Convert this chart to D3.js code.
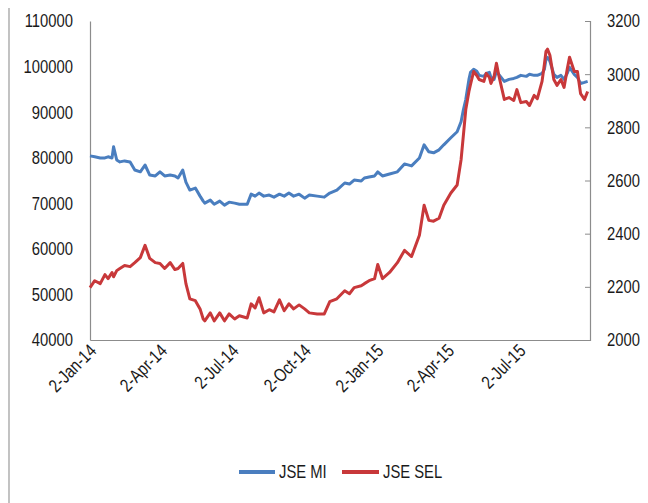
<!DOCTYPE html>
<html><head><meta charset="utf-8">
<script src="https://cdn.jsdelivr.net/npm/d3@7"></script>
<style>
html,body{margin:0;padding:0;background:#fff;}
text{font-family:"Liberation Sans",Arial,sans-serif;fill:#1a1a1a;}
</style></head>
<body>
<svg id="chart" width="648" height="503"></svg>
<script>
const dates = [
 "2014-01-02","2014-01-08","2014-01-15","2014-01-21","2014-01-25","2014-01-30",
 "2014-02-01","2014-02-05","2014-02-09","2014-02-15","2014-02-22","2014-02-28",
 "2014-03-07","2014-03-13","2014-03-19","2014-03-26",
 "2014-04-01","2014-04-07","2014-04-14","2014-04-20","2014-04-24","2014-04-30",
 "2014-05-04","2014-05-09","2014-05-16","2014-05-22","2014-05-26","2014-05-28",
 "2014-06-04","2014-06-09","2014-06-16","2014-06-22","2014-06-28",
 "2014-07-05","2014-07-11","2014-07-21","2014-07-26","2014-07-31",
 "2014-08-05","2014-08-11","2014-08-18","2014-08-24","2014-08-31",
 "2014-09-06","2014-09-12","2014-09-18","2014-09-25",
 "2014-10-02","2014-10-08","2014-10-18","2014-10-27",
 "2014-11-03","2014-11-12","2014-11-22","2014-11-28",
 "2014-12-04","2014-12-13","2014-12-17","2014-12-23","2014-12-30",
 "2015-01-03","2015-01-09","2015-01-18","2015-01-28",
 "2015-02-06","2015-02-15","2015-02-25",
 "2015-03-03","2015-03-09","2015-03-15","2015-03-22","2015-03-28",
 "2015-04-06","2015-04-14","2015-04-19","2015-04-22","2015-04-25","2015-04-29",
 "2015-05-01","2015-05-05","2015-05-09","2015-05-12","2015-05-18","2015-05-21","2015-05-25","2015-05-27","2015-05-31",
 "2015-06-03","2015-06-06","2015-06-13","2015-06-19","2015-06-25","2015-06-29",
 "2015-07-04","2015-07-11","2015-07-15","2015-07-21","2015-07-25","2015-07-31",
 "2015-08-03","2015-08-05","2015-08-07","2015-08-10","2015-08-15","2015-08-19","2015-08-24","2015-08-28",
 "2015-09-01","2015-09-04","2015-09-10","2015-09-14","2015-09-18","2015-09-23","2015-09-27"
];
const jseMI = [
 80400, 80200, 79950, 79950, 80200, 79950,
 82400, 79500, 79080, 79300, 79080, 77300,
 76900, 78400, 76200, 76000,
 76900, 76000, 76200, 76000, 75550, 77300,
 74660, 72900, 73340, 71570, 70470, 70030,
 70700, 69800, 70470, 69600, 70250,
 70030, 69800, 69800, 72000, 71570,
 72240, 71570, 71800, 71350, 72000,
 71570, 72240, 71570, 72000,
 71130, 71800, 71570, 71350,
 72240, 72900, 74450, 74220,
 75100, 74880, 75550, 75770, 76000,
 76900, 76000, 76430, 76900,
 78640, 78200, 79950,
 82830, 81300, 81070, 81730, 82830,
 84380, 85700, 87900, 90560, 92770, 97190,
 98730, 99400, 98950, 98070, 97850, 98500, 98730, 97630, 97190,
 98950, 98300, 96750, 97190, 97400, 97630,
 98070, 97850, 98300, 98070, 98070, 98500,
 99400, 101600, 102000, 101160, 98300, 97630, 98070, 97190,
 98500, 99840, 98300, 97630, 96300, 96530, 96750
];
const jseSEL = [
 2197, 2223, 2212, 2246, 2231, 2254,
 2238, 2261, 2269, 2280, 2276, 2291,
 2310, 2356, 2307, 2291,
 2288, 2269, 2291, 2265, 2269, 2288,
 2212, 2155, 2148, 2117, 2079, 2072,
 2102, 2072, 2102, 2072, 2098,
 2079, 2091, 2083, 2136, 2121,
 2159, 2102, 2114, 2106, 2151,
 2110, 2136, 2117, 2132,
 2117, 2102, 2098, 2098,
 2144, 2155, 2185, 2174,
 2197, 2204, 2212, 2223, 2231,
 2284, 2231, 2254, 2291,
 2337, 2314, 2394,
 2507, 2450, 2447, 2458, 2507,
 2553, 2583, 2678, 2772, 2867, 2935,
 2961, 3010, 2995, 2980, 2973, 3003, 2988, 2965, 2992,
 3041, 2995, 2905, 2912, 2901, 2942,
 2893, 2897, 2882, 2920, 2908, 2973,
 3037, 3086, 3094, 3071, 2980, 2958, 2980, 2950,
 3018, 3064, 3010, 3010, 2927, 2905, 2935
];
const xTickLabels = ["2014-01-02","2014-04-02","2014-07-02","2014-10-02","2015-01-02","2015-04-02","2015-07-02"];
const leftTicks = [40000,50000,60000,70000,80000,90000,100000,110000];
const rightTicks = [2000,2200,2400,2600,2800,3000,3200];
const seriesNames = ["JSE MI","JSE SEL"];
const colors = ["#4a7ebf","#c8383a"];

const parse = d3.timeParse("%Y-%m-%d");
const svg = d3.select("#chart");
const L = 90, R = 590, T = 21, B = 340;

const x = d3.scaleTime().domain([parse("2014-01-02"), parse("2015-09-30")]).range([L, R]);
const yL = d3.scaleLinear().domain([40000,110000]).range([B, T]);
const yR = d3.scaleLinear().domain([2000,3200]).range([B, T]);

svg.append("line").attr("x1",9).attr("x2",9).attr("y1",8).attr("y2",503)
  .attr("stroke","#9a9a9a").attr("stroke-width",1.2);

const fs = 18.5;
const gL = svg.append("g").attr("transform",`translate(${L},0)`)
  .call(d3.axisLeft(yL).tickValues(leftTicks).tickSize(0).tickPadding(17).tickFormat(d3.format("d")));
gL.select(".domain").attr("stroke","#8c8c8c").attr("stroke-width",1.2);
gL.selectAll("text").style("font-size",fs+"px").attr("fill","#1a1a1a");

const gR = svg.append("g").attr("transform",`translate(${R},0)`)
  .call(d3.axisRight(yR).tickValues(rightTicks).tickSize(-5).tickPadding(17).tickFormat(d3.format("d")));
gR.select(".domain").attr("stroke","#8c8c8c").attr("stroke-width",1.2);
gR.selectAll(".tick line").attr("stroke","#8c8c8c");
gR.selectAll("text").style("font-size",fs+"px").attr("fill","#1a1a1a");

const fmt = d3.timeFormat("%-d-%b-%y");
const gB = svg.append("g").attr("transform",`translate(0,${B})`)
  .call(d3.axisBottom(x).tickValues(xTickLabels.map(parse)).tickSize(0).tickFormat(fmt));
gB.select(".domain").attr("stroke","#8c8c8c").attr("stroke-width",1.2);
gB.selectAll("text").style("font-size",fs+"px").attr("fill","#1a1a1a")
  .attr("text-anchor","end").attr("dy","0").attr("y",0)
  .attr("transform","translate(7,12) rotate(-45)");

const data = dates.map((d,i)=>({d:parse(d), a:jseMI[i], b:jseSEL[i]}));
const lineA = d3.line().x(d=>x(d.d)).y(d=>yL(d.a));
const lineB = d3.line().x(d=>x(d.d)).y(d=>yR(d.b));
svg.append("path").datum(data).attr("d",lineA).attr("fill","none")
  .attr("stroke",colors[0]).attr("stroke-width",3).attr("stroke-linejoin","round");
svg.append("path").datum(data).attr("d",lineB).attr("fill","none")
  .attr("stroke",colors[1]).attr("stroke-width",3).attr("stroke-linejoin","round");

const legY = 472;
const leg = [{x1:239,x2:275,tx:279},{x1:342,x2:379,tx:383}];
leg.forEach((l,i)=>{
  svg.append("line").attr("x1",l.x1).attr("x2",l.x2).attr("y1",legY).attr("y2",legY)
    .attr("stroke",colors[i]).attr("stroke-width",4);
  svg.append("text").attr("x",l.tx).attr("y",legY).attr("dy","0.35em")
    .style("font-size",fs+"px").text(seriesNames[i]);
});

// condense all text to mimic the narrow typeface of the reference
svg.selectAll("text").each(function(){
  const w = this.getComputedTextLength();
  d3.select(this).attr("textLength", (w*0.8).toFixed(1)).attr("lengthAdjust","spacingAndGlyphs");
});
</script>
</body></html>
